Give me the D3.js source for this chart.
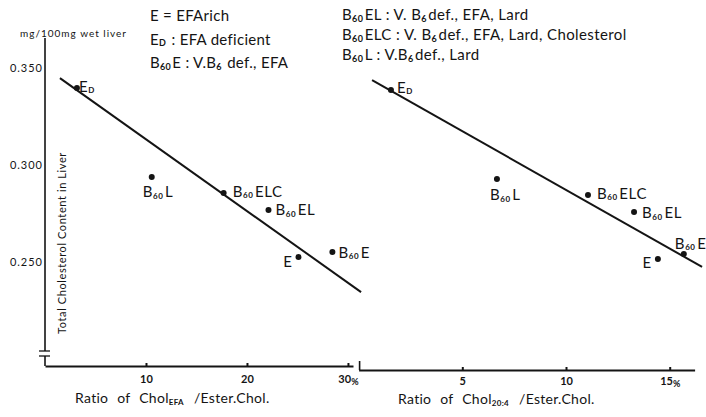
<!DOCTYPE html>
<html><head><meta charset="utf-8">
<script src="https://cdn.jsdelivr.net/npm/d3@7"></script>
<style>
html,body{margin:0;padding:0;background:#fff;}
svg{display:block;}
text{font-family:Lato,"Liberation Sans",sans-serif;fill:#141414;}
</style></head>
<body><svg id="c" width="706" height="417"></svg>
<script>
// ---- data ----
const groups = ["E{D}", "B{60}L", "B{60}ELC", "B{60}EL", "E", "B{60}E"];
const totalChol = [0.3397, 0.2938, 0.2856, 0.2768, 0.2526, 0.2552];   // mg/100mg wet liver
const ratioEFA = [3.16, 10.57, 17.69, 22.13, 25.1, 28.46];            // % Chol EFA / Ester Chol
const ratio204 = [1.56, 6.67, 11.06, 13.28, 14.43, 15.68];            // % Chol 20:4 / Ester Chol
const fitEFA_x = [1.48, 31.3], fitEFA_y = [0.3448, 0.2345];
const fit204_x = [0.65, 16.56], fit204_y = [0.3448, 0.2485];
const yTicks = [0.25, 0.30, 0.35];
const yTickLabels = ["0.250", "0.300", "0.350"];
const xTicksEFA = [10, 20, 30];
const xTicks204 = [5, 10, 15];
const legendLeft = ["E = EFArich", "E{D} : EFA deficient", "B{60}E : V.B{6} def., EFA"];
const legendRight = ["B{60}EL : V. B{6}def., EFA, Lard", "B{60}ELC : V. B{6}def., EFA, Lard, Cholesterol", "B{60}L : V.B{6}def., Lard"];

// ---- layout ----
const svg = d3.select("#c");
const ink = "#141414";

function rich(sel, str, subSize) {
  const re = /([^{]+)|\{([^}]*)\}/g; let m;
  while ((m = re.exec(str)) !== null) {
    if (m[1] !== undefined) sel.append("tspan").text(m[1]);
    else sel.append("tspan").attr("font-size", subSize).attr("font-weight", "bold")
      .attr("dy", 1.5).text(m[2]).clone(false).attr("dy", -1.5).attr("font-size", null).text("\u200A");
  }
  return sel;
}

const yL = d3.scaleLinear().domain([0.25, 0.35]).range([262, 68]);
const yR = d3.scaleLinear().domain([0.25, 0.35]).range([264, 70]);
const xL = d3.scaleLinear().domain([0, 30.5]).range([45, 353]);
const xR = d3.scaleLinear().domain([0, 16.2]).range([358.6, 694.6]);

// y axis (left) with break
const yAxisX = 45, xAxisYL = 366, xAxisYR = 370;
svg.append("line").attr("x1", yAxisX).attr("x2", yAxisX).attr("y1", 38).attr("y2", 351).attr("stroke", ink).attr("stroke-width", 1.6);
svg.append("line").attr("x1", yAxisX).attr("x2", yAxisX).attr("y1", 356).attr("y2", xAxisYL).attr("stroke", ink).attr("stroke-width", 1.6);
[351, 356].forEach(yy => svg.append("line").attr("x1", 39).attr("x2", 50).attr("y1", yy).attr("y2", yy).attr("stroke", ink).attr("stroke-width", 1.3));

const gy = svg.append("g").attr("transform", `translate(${yAxisX},0)`)
  .call(d3.axisLeft(yL).tickValues(yTicks).tickSize(0).tickPadding(2)
    .tickFormat((d, i) => yTickLabels[i]));
gy.select(".domain").remove();
gy.selectAll("text").attr("font-size", 11).attr("letter-spacing", 1).attr("font-family", "Lato").attr("fill", ink);

svg.append("text").attr("x", 20).attr("y", 37).attr("font-size", 10).attr("letter-spacing", 1).text("mg/100mg wet liver");
svg.append("text").attr("transform", "translate(66,243) rotate(-90)").attr("text-anchor", "middle")
  .attr("font-size", 11).attr("letter-spacing", 0.6).text("Total Cholesterol Content in Liver");

// x axes
function xAxis(scale, ticks, y, pad) {
  const g = svg.append("g").attr("transform", `translate(0,${y})`)
    .call(d3.axisBottom(scale).tickValues(ticks).tickSizeInner(-3).tickSizeOuter(0).tickPadding(pad).tickFormat(d3.format("d")));
  g.select(".domain").attr("stroke", ink).attr("stroke-width", 1.8);
  g.selectAll(".tick line").attr("stroke", ink).attr("stroke-width", 2);
  g.selectAll(".tick text").attr("font-size", 11).attr("font-weight", "bold").attr("font-family", "Lato").attr("fill", ink);
  g.selectAll(".tick text").filter(d => d === ticks[ticks.length - 1])
    .append("tspan").attr("font-size", 9).attr("dy", 2).text("%");
  return g;
}
xAxis(xL, xTicksEFA, xAxisYL, 9);
xAxis(xR, xTicks204, xAxisYR, 7);
// right panel stub
svg.append("line").attr("x1", xR(0) + 1).attr("x2", xR(0) + 1).attr("y1", 361).attr("y2", xAxisYR).attr("stroke", ink).attr("stroke-width", 1.6);

// axis titles
rich(svg.append("text").attr("x", 75).attr("y", 403).attr("font-size", 14).attr("word-spacing", 5).attr("letter-spacing", 0.3), "Ratio of Chol{EFA} /Ester.Chol.", 8);
rich(svg.append("text").attr("x", 398).attr("y", 404).attr("font-size", 14).attr("word-spacing", 5).attr("letter-spacing", 0.3), "Ratio of Chol{20:4} /Ester.Chol.", 8);

// legends
legendLeft.forEach((s, i) => rich(svg.append("text").attr("x", 150).attr("y", 21 + i * 23.5).attr("font-size", 15).attr("letter-spacing", 0.3), s, 9));
legendRight.forEach((s, i) => rich(svg.append("text").attr("x", 342).attr("y", 20 + i * 20).attr("font-size", 15).attr("letter-spacing", 0.4), s, 9));

// fit lines
const line = (xs, ys) => d3.line().x(d => xs(d[0])).y(d => ys(d[1]));
svg.append("path").datum(d3.zip(fitEFA_x, fitEFA_y)).attr("d", line(xL, yL)).attr("stroke", ink).attr("stroke-width", 2).attr("fill", "none");
svg.append("path").datum(d3.zip(fit204_x, fit204_y)).attr("d", line(xR, yR)).attr("stroke", ink).attr("stroke-width", 2).attr("fill", "none");

// points + labels
const offL = [[2, 4, "start"], [-9, 20, "start"], [9, 4, "start"], [7, 5, "start"], [-6, 10, "end"], [6, 6, "start"]];
const offR = [[6, 3, "start"], [-7, 21, "start"], [9, 4, "start"], [8, 6, "start"], [-6, 9, "end"], [-9, -5, "start"]];
function points(xs, ys, xv, off) {
  groups.forEach((gname, i) => {
    const cx = xs(xv[i]), cy = ys(totalChol[i]);
    svg.append("circle").attr("cx", cx).attr("cy", cy).attr("r", 3).attr("fill", ink);
    rich(svg.append("text").attr("x", cx + off[i][0]).attr("y", cy + off[i][1]).attr("text-anchor", off[i][2])
      .attr("font-size", 15).attr("letter-spacing", 0.6), gname, 8);
  });
}
points(xL, yL, ratioEFA, offL);
points(xR, yR, ratio204, offR);
</script></body></html>
